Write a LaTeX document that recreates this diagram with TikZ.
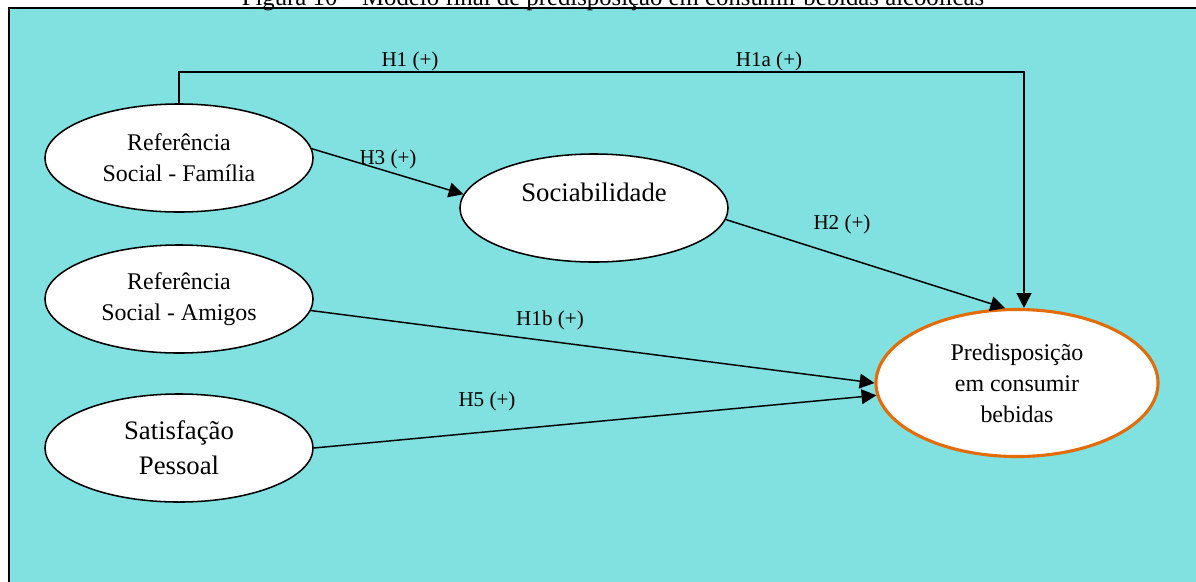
\documentclass[tikz,border=0pt]{standalone}
\usepackage{fontspec}
\setmainfont{Liberation Serif}
\usetikzlibrary{arrows.meta,shapes.geometric}
\definecolor{modelbg}{RGB}{128,225,224}
\definecolor{modelorange}{RGB}{227,108,9}

\begin{document}
\begin{tikzpicture}[x=0.025cm,y=-0.025cm]

    % --- Styles ---
    \tikzset{
        % Konstrukte (Ellipsen)
        construct/.style={
            ellipse,
            draw,
            fill=white,
            line width=1.1pt,
            minimum width=6.7cm,
            minimum height=2.7cm,
            inner sep=0pt,
            align=center,
            font=\fontsize{17pt}{22pt}\selectfont
        },
        bigtext/.style={
            font=\fontsize{19pt}{25pt}\selectfont
        },
        target/.style={
            construct,
            draw=modelorange,
            line width=2.2pt,
            minimum width=7.05cm,
            minimum height=3.675cm
        },
        % Hypothesen-Beschriftungen
        hyplabel/.style={
            font=\fontsize{15pt}{18pt}\selectfont,
            anchor=base,
            inner sep=0pt
        },
        titletext/.style={
            font=\fontsize{17.6pt}{20pt}\selectfont,
            anchor=base,
            inner sep=0pt
        },
        % Pfeile
        hyparrow/.style={
            line width=1.05pt,
            -{Triangle[length=10.5pt, width=10.5pt]}
        },
        modelframe/.style={
            draw,
            line width=1.2pt,
            fill=modelbg
        }
    }

    \useasboundingbox (0,0) rectangle (1196,581);
    \clip (0,0) rectangle (1196,581);

    % --- Rahmen und Titel ---
    \draw[modelframe] (9,8) rectangle (1230,610);
    \node[titletext] (title) at (613,5.5) {Figura 10 – Modelo final de predisposição em consumir bebidas alcoólicas};

    % --- Konstrukte ---
    \node[construct] (fam) at (179,158) {Referência\\Social - Família};
    \node[construct] (ami) at (179,299) {Referência\\Social - Amigos};
    \node[construct, bigtext] (sat) at (179,448) {Satisfação\\Pessoal};
    \node[construct, bigtext, text depth=22pt] (soc) at (594,208) {Sociabilidade};
    \node[target] (pred) at (1017,383) {Predisposição\\em consumir\\bebidas};

    % --- Hypothesen (Pfeile) ---
    \coordinate (h1top) at (1024,72);
    \draw[hyparrow] (fam.north) |- (h1top) -- (h1top |- pred.north);
    \draw[hyparrow] (fam.4) -- (soc.174);
    \draw[hyparrow] (soc.-5) -- (pred.99);
    \draw[hyparrow] (ami.-5) -- (pred.west);
    \draw[hyparrow] (sat.east) -- (pred.185);

    % --- Beschriftungen ---
    \node[hyplabel] (h1) at (410,66) {H1 (+)};
    \node[hyplabel] (h1a) at (769,66) {H1a (+)};
    \node[hyplabel] (h3) at (388,164) {H3 (+)};
    \node[hyplabel] (h2) at (842,229) {H2 (+)};
    \node[hyplabel] (h1b) at (550,325) {H1b (+)};
    \node[hyplabel] (h5) at (487,406) {H5 (+)};

\end{tikzpicture}
\end{document}
